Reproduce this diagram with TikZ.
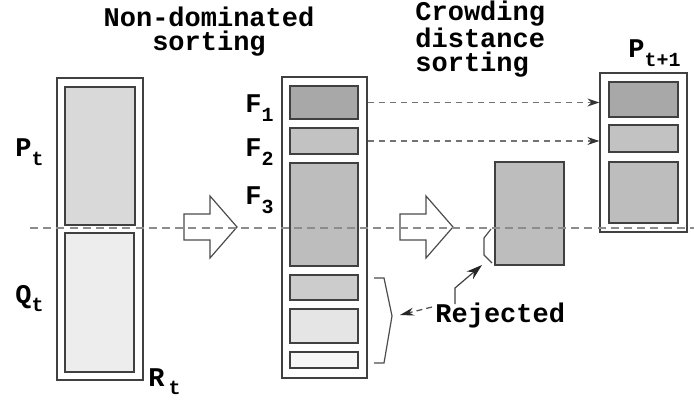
\documentclass[tikz,border=0pt]{standalone}
\usepackage{fontspec}
\setmonofont{Liberation Mono}
\usepackage{tikz}
\usetikzlibrary{%
  arrows.meta,
  fit,
  positioning
}
\definecolor{popP}{gray}{0.85}
\definecolor{popQ}{gray}{0.93}
\definecolor{frontA}{gray}{0.66}
\definecolor{frontB}{gray}{0.76}
\definecolor{frontC}{gray}{0.74}
\definecolor{frontD}{gray}{0.80}
\definecolor{frontE}{gray}{0.90}
\definecolor{frontF}{gray}{0.97}
\newcommand{\idx}[1]{\raisebox{-0.6ex}{\fontsize{10}{10}\selectfont #1}}
\tikzset{
  pop/.style={draw=black!75, line width=0.6pt, inner sep=0pt},
  front/.style={pop, fill=#1},
  lbl/.style={font=\ttfamily\bfseries\fontsize{13.5}{12}\selectfont,
              inner sep=0pt},
  cut/.style={draw=black!45, line width=0.8pt, dash pattern=on 4pt off 2.6pt},
  carry/.style={draw=black!55, line width=0.6pt, dash pattern=on 3pt off 2.5pt,
                -{Stealth[length=6pt, width=4pt, black!80]}},
  fatarrow/.pic={
    \draw [draw=black!70, line width=0.6pt]
      (-53,-13) -- (-27,-13) -- (-27,-31) -- (0,0) -- (-27,31)
      -- (-27,13) -- (-53,13) -- cycle ;
  },
}
\begin{document}
\begin{tikzpicture}[x=0.5pt, y=-0.5pt]
    \useasboundingbox (0,0) rectangle (694,400) ;

    % combined population R_t
    \node [pop, fit={(57,78) (143,380)}] (Rt) {} ;
    \node [front=popP, fit={(65,87) (135,225)}] (Pt) {} ;
    \node [front=popQ, fit={(65,233) (134,372)}] (Qt) {} ;

    % sorted fronts
    \node [pop, fit={(282,77) (367,378)}] (Ft) {} ;
    \node [front=frontA, fit={(290,86) (358,119)}] (F1) {} ;
    \node [front=frontB, fit={(290,128) (358,154)}] (F2) {} ;
    \node [front=frontC, fit={(290,163) (358,266)}] (F3) {} ;
    \node [front=frontD, fit={(290,275) (358,300)}] (F4) {} ;
    \node [front=frontE, fit={(290,309) (358,343)}] (F5) {} ;
    \node [front=frontF, fit={(290,352) (358,368)}] (F6) {} ;

    % front F_3 after crowding distance sorting
    \node [front=frontC, fit={(495,162) (564,265)}] (Fc) {} ;

    % new population P_t+1
    \node [pop, fit={(600,73) (687,232)}] (Pn) {} ;
    \node [front=frontA, fit={(609,82) (678,117)}] (Pn1) {} ;
    \node [front=frontB, fit={(609,125) (678,152)}] (Pn2) {} ;
    \node [front=frontC, fit={(609,162) (678,223)}] (Pn3) {} ;

    \pic at (237,227) {fatarrow} ;
    \pic at (453,227) {fatarrow} ;

    \draw [cut] (30,228) -- (694,228) ;

    \draw [carry] (F1 -| Ft.east) -- (F1 -| Pn.west) ;
    \draw [carry] (F2 -| Ft.east) -- (F2 -| Pn.west) ;

    % labels
    \node [lbl, anchor=base west] (lPt) at (15,157) {P\idx{t}} ;
    \node [lbl, anchor=base west] (lQt) at (15,303) {Q\idx{t}} ;
    \node [lbl, anchor=base west] (lRt) at (148,386) {R\hspace{2pt}\idx{t}} ;
    \node [lbl, anchor=base west] (lF1) at (245,113) {F\idx{1}} ;
    \node [lbl, anchor=base west] (lF2) at (245,157) {F\idx{2}} ;
    \node [lbl, anchor=base west] (lF3) at (245,205) {F\idx{3}} ;
    \node [lbl, anchor=base west] (lPn) at (628,58) {P\idx{t+1}} ;

    \node [lbl, anchor=base, align=center] (ndsort) at (209,51)
          {Non-dominated\\sorting} ;
    \node [lbl, anchor=base west, align=left] (cdsort) at (415,72)
          {Crowding\\distance\\sorting} ;

    % rejected members
    \node [lbl, anchor=base west] (rej) at (435,322) {Rejected} ;
    \draw [draw=black!70, line width=0.6pt]
          (374,278) -- (384,278) -- (392,316) -- (384,363) -- (374,363) ;
    \coordinate (braceTip) at (400,315) ;
    \draw [draw=black!70, line width=0.6pt, dash pattern=on 3pt off 2pt,
           -{Stealth[length=7pt, width=4pt, black!85]}]
          (rej.west) ++(-3,-8) -- (braceTip) ;
    \draw [draw=black!70, line width=0.6pt]
          (491,229) -- (484,238) -- (484,255) -- (492,263) ;
    \coordinate (cutTip) at (482,265) ;
    \draw [draw=black!75, line width=0.6pt,
           -{Stealth[length=8pt, width=5pt, black!85]}]
          (455,304) -- (455,288) -- (cutTip) ;
\end{tikzpicture}
\end{document}
